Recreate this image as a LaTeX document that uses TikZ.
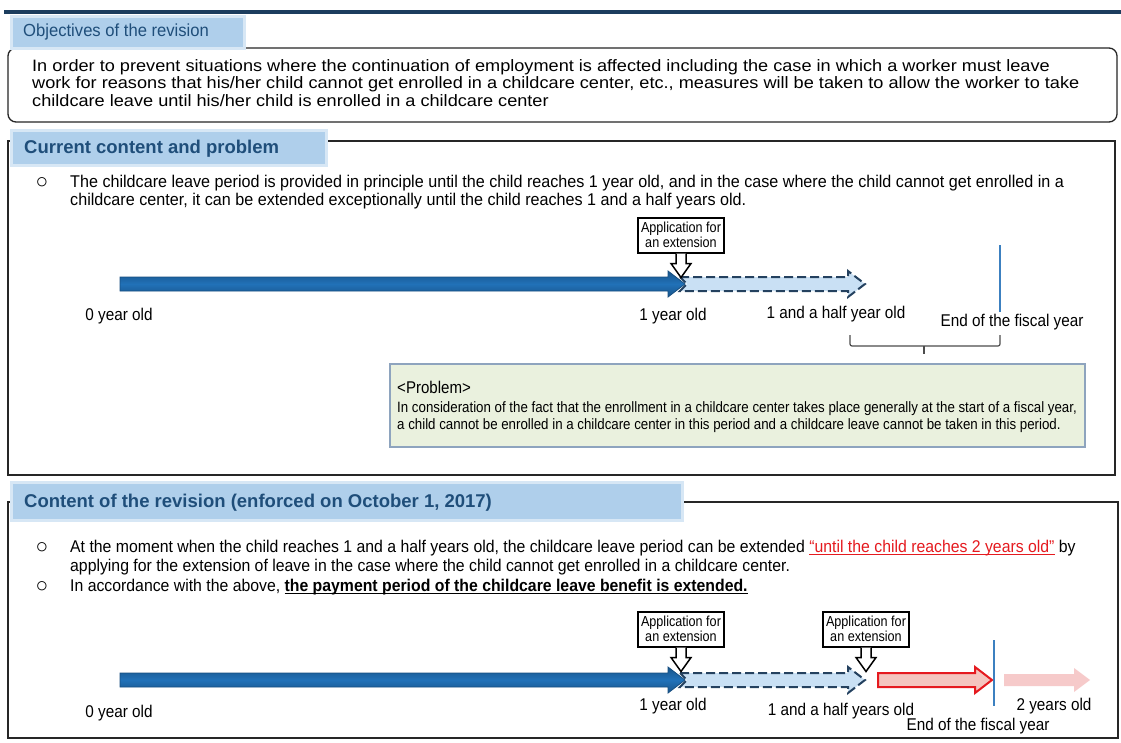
\documentclass[tikz,border=0pt]{standalone}
\usepackage{fontspec}
\setmainfont{Liberation Sans}
\newfontfamily\objf[FakeStretch=1.10]{Liberation Sans}
\newfontfamily\tabf[FakeStretch=0.95]{Liberation Sans}
\newfontfamily\curf[FakeStretch=0.95]{Liberation Sans}
\newfontfamily\revf[FakeStretch=0.93]{Liberation Sans}
\newfontfamily\probf[FakeStretch=0.886]{Liberation Sans}
\newfontfamily\labf[FakeStretch=0.90]{Liberation Sans}
\newfontfamily\appf[FakeStretch=0.87]{Liberation Sans}
\usetikzlibrary{calc}
\definecolor{topbar}{HTML}{1C3D5E}
\definecolor{tabfill}{HTML}{AFCFEB}
\definecolor{tabtext}{HTML}{1F4E7A}
\definecolor{arrowblue}{HTML}{2171B8}
\definecolor{dashfill}{HTML}{C9E0F4}
\definecolor{dashline}{HTML}{24415F}
\definecolor{redline}{HTML}{E51A1F}
\definecolor{pinkfill}{HTML}{F4C5BF}
\definecolor{fadepink}{HTML}{F6CACA}
\definecolor{probfill}{HTML}{EAF1DE}
\definecolor{probline}{HTML}{8EA4BE}
\definecolor{vline}{HTML}{3C80C0}
\newcommand\ulthick[1]{\leavevmode\setbox0=\hbox{#1}\rlap{\rule[-2.6pt]{\wd0}{1.5pt}}\box0}
\newcommand\hollowdown[1]{\draw[hollow] ($(#1.south)+(-5,0)$) -- ++(0,10) -- ++(-5,0) -- ++(10,14) -- ++(10,-14) -- ++(-5,0) -- ++(0,-10);}
\tikzset{
  txt/.style={inner sep=0pt, anchor=west},
  lbl/.style={inner sep=0pt, font=\labf\fontsize{17}{19}\selectfont},
  appbox/.style={draw=black, line width=2pt, fill=white, minimum width=86pt, minimum height=35pt, inner sep=1pt, align=center, font=\appf\fontsize{14.5}{15.5}\selectfont},
  hollow/.style={draw=black, line width=1.5pt, fill=white},
  framebox/.style={draw=black!85, line width=1.3pt},
  tabbox/.style={fill=tabfill},
  bluearrow/.style={top color=arrowblue!75!black, bottom color=arrowblue!75!black, middle color=arrowblue, draw=arrowblue!70!black, line width=0.8pt},
  dasharrow/.style={fill=dashfill, draw=dashline, line width=2pt, dash pattern=on 9pt off 4pt},
  redarrow/.style={fill=pinkfill, draw=redline, line width=2pt},
  fadearrow/.style={fill=fadepink},
  bullet/.style={inner sep=0pt, font=\fontsize{21}{21}\selectfont}
}
\begin{document}
\begin{tikzpicture}[x=1pt,y=-1pt]
\useasboundingbox (0,0) rectangle (1121,742);
\fill[white] (0,0) rectangle (1121,742);
% top bar
\fill[topbar] (4,10) rectangle (1121,14);

% ===== Objectives =====
\draw[framebox, rounded corners=8pt] (8,48) rectangle (1117,122);
\fill[tabfill!50] (10,15) rectangle (246,50);
\fill[tabbox] (13,18) rectangle (243,47);
\node[txt, text=tabtext, font=\tabf\fontsize{17.5}{19}\selectfont] (objtab) at (23,32) {Objectives of the revision};
\node[txt, align=left, font=\objf\fontsize{16.5}{17.5}\selectfont] (objtext) at (32,83)
 {In order to prevent situations where the continuation of employment is affected including the case in which a worker must leave\\
  work for reasons that his/her child cannot get enrolled in a childcare center, etc., measures will be taken to allow the worker to take\\
  childcare leave until his/her child is enrolled in a childcare center};

% ===== Current content =====
\draw[framebox] (8,141) rectangle (1115,475);
\fill[tabfill!50] (10,129) rectangle (328,167);
\fill[tabbox] (13,132) rectangle (325,164);
\node[txt, text=tabtext, font=\bfseries\fontsize{18.5}{20}\selectfont] (curtab) at (24,149) {Current content and problem};
\node[bullet] (b1) at (42,183) {○};
\node[txt, align=left, font=\curf\fontsize{17}{18}\selectfont] (curtext) at (70,192)
 {The childcare leave period is provided in principle until the child reaches 1 year old, and in the case where the child cannot get enrolled in a\\
  childcare center, it can be extended exceptionally until the child reaches 1 and a half years old.};

% timeline 1
\draw[dasharrow] (680,277) -- (848,277) -- (848,271) -- (865,284) -- (848,297) -- (848,291) -- (680,291) -- (687,284) -- cycle;
\path[bluearrow] (120,277) -- (668,277) -- (668,271) -- (685,284) -- (668,297) -- (668,291) -- (120,291) -- cycle;
\node[appbox] (app1) at (681,235) {Application for\\an extension};
\hollowdown{app1}
\draw[vline, line width=1.3pt] (1000,245) -- (1000,312);
\node[lbl] (l0a) at (119,316) {0 year old};
\node[lbl] (l1a) at (673,316) {1 year old};
\node[lbl] (l15a) at (836,314) {1 and a half year old};
\node[lbl] (lea) at (1012,322) {End of the fiscal year};
\draw[black!70, line width=1.2pt, rounded corners=2pt] (850,335) -- (850,346) -- (1000,346) -- (1000,335);
\draw[black!70, line width=1.2pt] (924,346) -- (924,354);

% problem box
\node[draw=probline, line width=1.2pt, fill=probfill, minimum width=695pt, minimum height=83pt, inner sep=0pt] (prob) at (737.5,405.5) {};
\node[txt, font=\probf\fontsize{17}{19}\selectfont] (probt) at (397,387) {<Problem>};
\node[txt, align=left, font=\probf\fontsize{15}{17}\selectfont] (probx) at (397,417.5)
 {In consideration of the fact that the enrollment in a childcare center takes place generally at the start of a fiscal year,\\
  a child cannot be enrolled in a childcare center in this period and a childcare leave cannot be taken in this period.};

% ===== Revision =====
\draw[framebox] (8,502) rectangle (1118,738);
\fill[tabfill!50] (10,481) rectangle (684,522);
\fill[tabbox] (13,484) rectangle (681,519);
\node[txt, text=tabtext, font=\bfseries\fontsize{18.5}{20}\selectfont] (revtab) at (24,503) {Content of the revision (enforced on October 1, 2017)};
\node[bullet] (b2) at (42,548) {○};
\node[bullet] (b3) at (42,587) {○};
\node[txt, align=left, font=\revf\fontsize{17}{19.5}\selectfont] (revtext) at (70,567.5)
 {At the moment when the child reaches 1 and a half years old, the childcare leave period can be extended {\color{redline}\ulthick{“until the child reaches 2 years old”}} by\\
  applying for the extension of leave in the case where the child cannot get enrolled in a childcare center.\\
  In accordance with the above, \ulthick{\bfseries the payment period of the childcare leave benefit is extended.}};

% timeline 2
\draw[dasharrow] (680,673) -- (848,673) -- (848,667) -- (865,680) -- (848,693) -- (848,687) -- (680,687) -- (687,680) -- cycle;
\path[bluearrow] (120,673) -- (668,673) -- (668,667) -- (685,680) -- (668,693) -- (668,687) -- (120,687) -- cycle;
\draw[redarrow] (878,673) -- (975,673) -- (975,667) -- (992,680) -- (975,693) -- (975,687) -- (878,687) -- cycle;
\fill[fadearrow] (1004,674) -- (1074,674) -- (1074,668) -- (1090,680) -- (1074,692) -- (1074,686) -- (1004,686) -- cycle;
\draw[vline, line width=1.3pt] (994,640) -- (994,706);
\node[appbox] (app2) at (681,629) {Application for\\an extension};
\node[appbox] (app3) at (866,629) {Application for\\an extension};
\hollowdown{app2}
\hollowdown{app3}
\node[lbl] (l0b) at (119,713) {0 year old};
\node[lbl] (l1b) at (673,706) {1 year old};
\node[lbl] (l15b) at (841,711) {1 and a half years old};
\node[lbl] (leb) at (978,726) {End of the fiscal year};
\node[lbl] (l2b) at (1054,706) {2 years old};
\end{tikzpicture}
\end{document}
